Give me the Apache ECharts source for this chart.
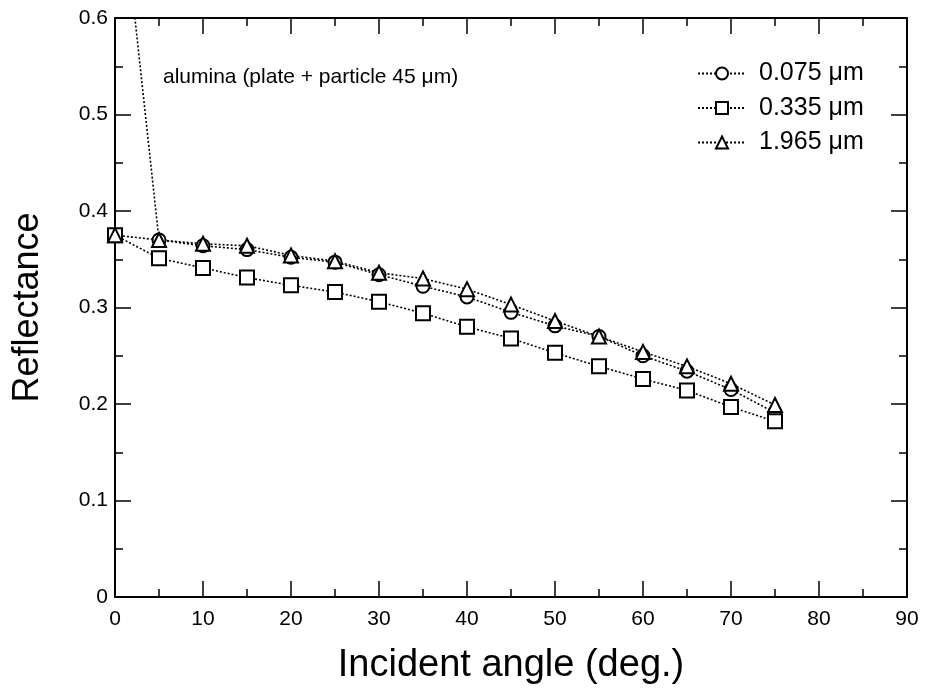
<!DOCTYPE html>
<html>
<head>
<meta charset="utf-8">
<script src="https://cdn.jsdelivr.net/npm/echarts@6/dist/echarts.min.js"></script>
<style>
html,body{margin:0;padding:0;background:#fff;}
#chart{width:925px;height:693px;}
</style>
</head>
<body>
<div id="chart"></div>
<script>
// Data
var angles = [0, 5, 10, 15, 20, 25, 30, 35, 40, 45, 50, 55, 60, 65, 70, 75];
var s075 = [0.79, 0.370, 0.364, 0.360, 0.352, 0.347, 0.334, 0.322, 0.311, 0.295, 0.281, 0.270, 0.250, 0.234, 0.215, 0.191];
var s335 = [0.375, 0.351, 0.341, 0.331, 0.323, 0.316, 0.306, 0.294, 0.280, 0.268, 0.253, 0.239, 0.226, 0.214, 0.197, 0.182];
var s1965 = [0.375, 0.370, 0.366, 0.364, 0.354, 0.348, 0.336, 0.330, 0.319, 0.303, 0.286, 0.270, 0.254, 0.239, 0.221, 0.199];
var seriesNames = ['0.075 \u03bcm', '0.335 \u03bcm', '1.965 \u03bcm'];
var annotation = 'alumina (plate + particle 45 \u03bcm)';
var xTitle = 'Incident angle (deg.)';
var yTitle = 'Reflectance';

function pairs(vals) {
  return angles.map(function (a, i) { return [a, vals[i]]; });
}

var FONT = '"Liberation Sans", Arial, Helvetica, sans-serif';
var chart = echarts.init(document.getElementById('chart'), null, {renderer: 'canvas'});

function mkSeries(name, vals, sym, size) {
  return {
    name: name,
    type: 'line',
    data: pairs(vals),
    symbol: sym,
    symbolSize: size,
    showAllSymbol: true,
    clip: true,
    lineStyle: {color: '#000', width: 1.6, type: [2, 2]},
    itemStyle: {color: '#fff', borderColor: '#000', borderWidth: 2},
    emphasis: {disabled: true},
    animation: false
  };
}

var axisCommon = {
  axisLine: {show: true, onZero: false, lineStyle: {color: '#000', width: 2}},
  axisTick: {show: true, inside: true, length: 16, lineStyle: {color: '#000', width: 1.5}},
  minorTick: {show: true, splitNumber: 2, length: 8, lineStyle: {color: '#000', width: 1.5}},
  splitLine: {show: false}
};

var option = {
  animation: false,
  backgroundColor: '#fff',
  grid: {left: 115, right: 18, top: 18, bottom: 96, containLabel: false},
  xAxis: [
    Object.assign({}, axisCommon, {
      type: 'value', min: 0, max: 90, interval: 10, position: 'bottom',
      name: xTitle, nameLocation: 'middle', nameGap: 50,
      nameTextStyle: {fontFamily: FONT, fontSize: 38, color: '#000'},
      axisLabel: {fontFamily: FONT, fontSize: 21, color: '#000', margin: 12}
    }),
    Object.assign({}, axisCommon, {
      type: 'value', min: 0, max: 90, interval: 10, position: 'top',
      axisLabel: {show: false}
    })
  ],
  yAxis: [
    Object.assign({}, axisCommon, {
      type: 'value', min: 0, max: 0.6, interval: 0.1, position: 'left',
      name: yTitle, nameLocation: 'middle', nameGap: 69,
      nameTextStyle: {fontFamily: FONT, fontSize: 36, color: '#000'},
      axisLabel: {fontFamily: FONT, fontSize: 21, color: '#000', margin: 7}
    }),
    Object.assign({}, axisCommon, {
      type: 'value', min: 0, max: 0.6, interval: 0.1, position: 'right',
      axisLabel: {show: false}
    })
  ],
  legend: {
    orient: 'vertical',
    left: 697, top: 61, padding: 0,
    itemWidth: 48, itemHeight: 15, itemGap: 9.5,
    data: seriesNames,
    textStyle: {fontFamily: FONT, fontSize: 25, color: '#000', lineHeight: 25, padding: [0, 0, 0, 8]},
    selectedMode: false
  },
  graphic: [{
    type: 'text', left: 163, top: 67,
    style: {text: annotation, font: '21px ' + FONT, fill: '#000'}
  }],
  series: [
    mkSeries(seriesNames[0], s075, 'circle', 13),
    mkSeries(seriesNames[1], s335, 'rect', 14),
    mkSeries(seriesNames[2], s1965, 'triangle', 14)
  ]
};
chart.setOption(option);
</script>
</body>
</html>
